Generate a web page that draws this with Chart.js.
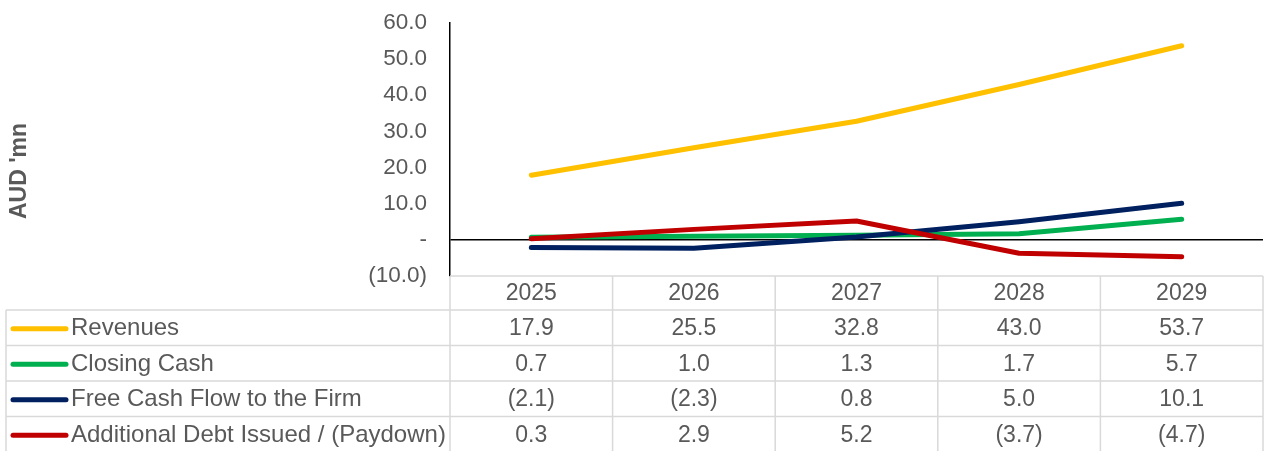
<!DOCTYPE html>
<html>
<head>
<meta charset="utf-8">
<script src="https://cdn.jsdelivr.net/npm/chart.js@4.4.1/dist/chart.umd.min.js"></script>
<style>
  html, body { margin: 0; padding: 0; background: #fff; }
  #wrap { width: 1270px; height: 451px; position: relative; }
</style>
</head>
<body>
<div id="wrap"><canvas id="chart"></canvas></div>
<script>
// Годы прогноза и серии (AUD млн)
const years = ['2025', '2026', '2027', '2028', '2029'];
const revenues = [17.9, 25.5, 32.8, 43.0, 53.7];
const closingCash = [0.7, 1.0, 1.3, 1.7, 5.7];
const freeCashFlow = [-2.1, -2.3, 0.8, 5.0, 10.1];
const debtIssued = [0.3, 2.9, 5.2, -3.7, -4.7];

const seriesNames = ['Revenues', 'Closing Cash', 'Free Cash Flow to the Firm', 'Additional Debt Issued / (Paydown)'];
const seriesValues = [revenues, closingCash, freeCashFlow, debtIssued];
const seriesColors = ['#FFC000', '#00B050', '#002060', '#C00000'];

const yTicks = [-10, 0, 10, 20, 30, 40, 50, 60];
const axisTitle = "AUD 'mn";

const TEXT = '#595959';
const GRID = '#d9d9d9';
const FONT = '"Liberation Sans", Arial, sans-serif';

// Формат как в Excel: ноль — прочерк, отрицательные — в скобках
function fmt(v) {
  if (Math.abs(v) < 1e-9) return '-';
  const s = Math.abs(v).toFixed(1);
  return v < 0 ? '(' + s + ')' : s;
}

// Таблица данных под графиком + подпись оси
const dataTable = {
  id: 'dataTable',
  afterDraw(chart) {
    const { ctx, chartArea } = chart;
    const x = chart.scales.x;
    const n = years.length;
    const colW = (chartArea.right - chartArea.left) / n;
    const top = chartArea.bottom;
    const headH = 34;
    const rowH = 35.5;
    const tableLeft = 6;
    const bottom = top + headH + rowH * seriesNames.length;

    ctx.save();
    ctx.strokeStyle = GRID;
    ctx.lineWidth = 1.5;
    ctx.beginPath();
    // верх заголовка только над колонками лет
    ctx.moveTo(chartArea.left, top);
    ctx.lineTo(chartArea.right, top);
    for (let r = 0; r <= seriesNames.length; r++) {
      const y = top + headH + r * rowH;
      ctx.moveTo(tableLeft, y);
      ctx.lineTo(chartArea.right, y);
    }
    for (let c = 0; c <= n; c++) {
      const cx = chartArea.left + c * colW;
      ctx.moveTo(cx, top);
      ctx.lineTo(cx, bottom);
    }
    ctx.moveTo(tableLeft, top + headH);
    ctx.lineTo(tableLeft, bottom);
    ctx.stroke();

    ctx.fillStyle = TEXT;
    ctx.font = '23px ' + FONT;
    ctx.textBaseline = 'middle';
    ctx.textAlign = 'center';
    years.forEach((yr, i) => {
      ctx.fillText(yr, x.getPixelForValue(i), top + headH / 2 + 1);
    });

    seriesNames.forEach((name, r) => {
      const cy = top + headH + r * rowH + rowH / 2 + 1;
      // ключ легенды
      ctx.strokeStyle = seriesColors[r];
      ctx.lineWidth = 5;
      ctx.lineCap = 'round';
      ctx.beginPath();
      ctx.moveTo(13, cy);
      ctx.lineTo(66, cy);
      ctx.stroke();

      ctx.fillStyle = TEXT;
      ctx.textAlign = 'left';
      ctx.font = '24px ' + FONT;
      ctx.fillText(name, 71, cy);
      ctx.textAlign = 'center';
      ctx.font = '23px ' + FONT;
      seriesValues[r].forEach((v, i) => {
        ctx.fillText(fmt(v), x.getPixelForValue(i), cy);
      });
    });

    // подпись оси Y
    ctx.translate(20, 171);
    ctx.rotate(-Math.PI / 2);
    ctx.font = 'bold 23px ' + FONT;
    ctx.textAlign = 'center';
    ctx.fillStyle = TEXT;
    ctx.fillText(axisTitle, 0, 0);
    ctx.restore();
  }
};

const datasets = seriesNames.map((name, i) => ({
  label: name,
  data: seriesValues[i],
  borderColor: seriesColors[i],
  backgroundColor: seriesColors[i],
  borderWidth: 5,
  borderCapStyle: 'round',
  borderJoinStyle: 'round',
  pointRadius: 0,
  tension: 0,
  order: seriesNames.length - i,
}));

new Chart(document.getElementById('chart'), {
  type: 'line',
  data: { labels: years, datasets },
  plugins: [dataTable],
  options: {
    responsive: true,
    maintainAspectRatio: false,
    animation: false,
    layout: { padding: { top: 23, right: 7, bottom: 175, left: 0 } },
    plugins: {
      legend: { display: false },
      tooltip: { enabled: false },
    },
    scales: {
      x: {
        display: false,
        offset: true,
      },
      y: {
        min: -10,
        max: 60,
        afterBuildTicks: (s) => { s.ticks = yTicks.map(v => ({ value: v })); },
        afterFit: (s) => {
          // ширина оси фиксирована, выступы подписей не сдвигают область графика
          s.width = 450;
          s.paddingTop = 0;
          s.paddingBottom = 0;
        },
        border: { display: true, color: '#000', width: 1.5 },
        grid: {
          drawTicks: false,
          color: (c) => (c.tick && c.tick.value === 0 ? '#000' : 'rgba(0,0,0,0)'),
          lineWidth: 1.5,
        },
        ticks: {
          color: TEXT,
          padding: 23,
          font: { family: FONT, size: 22.5 },
          callback: (v) => fmt(v),
        },
      },
    },
  },
});
</script>
</body>
</html>
